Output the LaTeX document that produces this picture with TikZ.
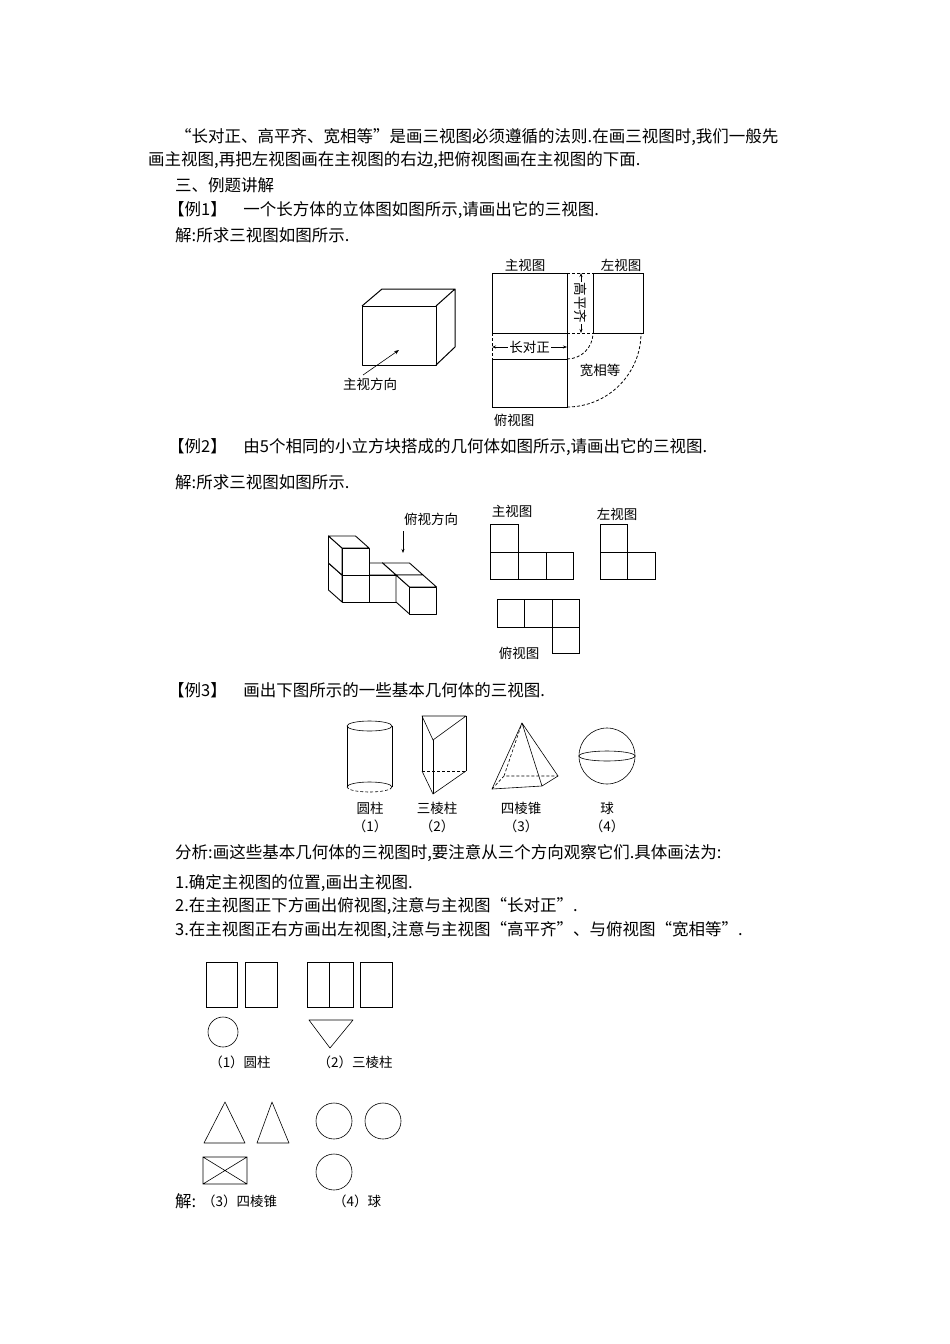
\documentclass[tikz,border=0pt]{standalone}
\usepackage{fontspec}
\setmainfont{Noto Sans CJK SC}
\usetikzlibrary{arrows.meta}
\tikzset{
 txt/.style={anchor=west,inner sep=0pt,font=\fontsize{16.5}{19}\selectfont},
 lbl/.style={inner sep=0pt,font=\fontsize{13.5}{15}\selectfont},
 ln/.style={line width=1pt},
 thin/.style={line width=0.6pt},
 dsh/.style={line width=0.8pt,dash pattern=on 3pt off 2pt},
 cubeface/.style={fill=white,draw=black,line width=0.9pt,line join=round}
}
\newcommand{\cubeat}[3]{%
 \pgfmathsetmacro{\X}{355.5+27*#1-13.5*#2}\pgfmathsetmacro{\Y}{614-27*#3-12*#2}%
 \filldraw[cubeface] (\X,\Y) -- ++(-13.5,-12) -- ++(0,-27) -- ++(13.5,12) -- cycle;
 \filldraw[cubeface] (\X,\Y-27) -- ++(-13.5,-12) -- ++(27,0) -- ++(13.5,12) -- cycle;
 \filldraw[cubeface] (\X,\Y) rectangle ++(27,-27);}
\begin{document}
\begin{tikzpicture}[x=1pt,y=-1pt]
\useasboundingbox (0,0) rectangle (950,1344);
\node[txt] (t1) at (175,137) {“长对正、高平齐、宽相等”是画三视图必须遵循的法则.在画三视图时,我们一般先};
\node[txt] (t2) at (148,160) {画主视图,再把左视图画在主视图的右边,把俯视图画在主视图的下面.};
\node[txt] (t3) at (175,185) {三、例题讲解};
\node[txt] (t4) at (168,210) {【例1】\quad 一个长方体的立体图如图所示,请画出它的三视图.};
\node[txt] (t5) at (175,235) {解:所求三视图如图所示.};
% example 1 cube
\draw[ln,line join=round] (362,306) rectangle (436,365);
\draw[ln,line join=round] (362,306) -- (382,289) -- (455,289) -- (455,347) -- (436,365) (436,306) -- (455,289);
\coordinate (a1) at (363,375); \coordinate (a2) at (399,350);
\draw[thin,-{Stealth[length=5pt]}] (a1) -- (a2);
\node[lbl] (l1) at (370,384) {主视方向};
% views
\draw[ln] (492,273) rectangle (567,333);
\draw[ln] (593,273) rectangle (643,333);
\draw[ln] (492,359) rectangle (567,407);
\draw[thin] (567,333) -- (567,359);
\draw[dsh] (567,273) -- (593,273) (567,333) -- (593,333) (492,333) -- (492,359);
\draw[dsh] (567,359) arc[start angle=90,end angle=0,radius=26];
\draw[dsh] (567,407) arc[start angle=90,end angle=0,radius=74];
\draw[thin,{Stealth[length=4pt]}-{Stealth[length=4pt]}] (581,273) -- (581,333);
\node[lbl,fill=white,rotate=-90,inner sep=1pt] (gp) at (581,303) {高平齐};
\draw[thin,{Stealth[length=4pt]}-{Stealth[length=4pt]}] (492,347) -- (567,347);
\node[lbl,fill=white,inner sep=1pt] (cd) at (529.5,347) {长对正};
\node[lbl] at (525,265) {主视图};
\node[lbl] at (621,265) {左视图};
\node[lbl] at (600,370) {宽相等};
\node[lbl] at (514,420) {俯视图};
% example 2
\node[txt] (t6) at (168,447) {【例2】\quad 由5个相同的小立方块搭成的几何体如图所示,请画出它的三视图.};
\node[txt] (t7) at (175,482) {解:所求三视图如图所示.};
\cubeat{2}{1}{0}\cubeat{1}{1}{0}\cubeat{0}{1}{0}\cubeat{0}{1}{1}\cubeat{2}{0}{0}
\node[lbl] (fs) at (431,519) {俯视方向};
\coordinate (b1) at (403,531); \coordinate (b2) at (403,553);
\draw[thin,-{Stealth[length=4pt]}] (b1) -- (b2);
\node[lbl] at (512,511) {主视图};
\draw[ln] (490,524) rectangle (518,552);
\draw[ln] (490,552) rectangle (518,579) (518,552) rectangle (546,579) (546,552) rectangle (573,579);
\node[lbl] at (617,514) {左视图};
\draw[ln] (600,524) rectangle (627,552) (600,552) rectangle (627,579) (627,552) rectangle (655,579);
\draw[ln] (497,599) rectangle (524,627) (524,599) rectangle (552,627) (552,599) rectangle (579,627) (552,627) rectangle (579,653);
\node[lbl] at (519,653) {俯视图};
% example 3
\node[txt] (t8) at (168,690) {【例3】\quad 画出下图所示的一些基本几何体的三视图.};
\draw[thin] (369.5,726) ellipse[x radius=22.5,y radius=5];
\draw[thin] (347,726) -- (347,787) (392,726) -- (392,787);
\draw[thin] (347,787) arc[start angle=180,end angle=360,x radius=22.5,y radius=5];
\draw[thin,dash pattern=on 3pt off 2pt] (392,787) arc[start angle=0,end angle=180,x radius=22.5,y radius=5];
\draw[thin,line join=round] (422,716) -- (466,716) -- (433,740) -- cycle;
\draw[thin] (422,716) -- (422,771) (466,716) -- (466,771) (433,740) -- (433,794);
\draw[thin] (422,771) -- (433,794) -- (466,771);
\draw[thin,dash pattern=on 3pt off 2pt] (422,771) -- (466,771);
\draw[thin,line join=round] (492,789) -- (542,786) -- (558,776) -- (522,723) -- cycle (522,723) -- (542,786);
\draw[thin,dash pattern=on 3pt off 2pt] (492,789) -- (504,776) -- (558,776) (504,776) -- (522,723);
\draw[thin] (607,756) circle[radius=28];
\draw[thin] (607,756) ellipse[x radius=28,y radius=5];
\node[lbl] at (370,808) {圆柱}; \node[lbl] at (370,826) {（1）};
\node[lbl] at (437,808) {三棱柱}; \node[lbl] at (437,826) {（2）};
\node[lbl] at (521,808) {四棱锥}; \node[lbl] at (521,826) {（3）};
\node[lbl] at (607,808) {球}; \node[lbl] at (607,826) {（4）};
\node[txt] (t9) at (175,853) {分析:画这些基本几何体的三视图时,要注意从三个方向观察它们.具体画法为:};
\node[txt] (t10) at (175,883) {1.确定主视图的位置,画出主视图.};
\node[txt] (t11) at (175,906) {2.在主视图正下方画出俯视图,注意与主视图“长对正”.};
\node[txt] (t12) at (175,930) {3.在主视图正右方画出左视图,注意与主视图“高平齐”、与俯视图“宽相等”.};
% answers
\draw[thin] (206,962) rectangle (237,1007) (245,962) rectangle (277,1007);
\draw[thin] (223,1032) circle[radius=15];
\draw[thin] (307,962) rectangle (353,1007) (329,962) -- (329,1007) (360,962) rectangle (392,1007);
\draw[thin,line join=round] (309,1020) -- (353,1020) -- (330,1048) -- cycle;
\node[lbl] at (240,1062) {（1）圆柱};
\node[lbl] at (355,1062) {（2）三棱柱};
\draw[thin,line join=round] (204,1143) -- (245,1143) -- (225,1102) -- cycle;
\draw[thin,line join=round] (257,1143) -- (289,1143) -- (272,1102) -- cycle;
\draw[thin] (203,1157) rectangle (247,1184) (203,1157) -- (247,1184) (203,1184) -- (247,1157);
\draw[thin] (334,1121) circle[radius=18] (383,1121) circle[radius=18] (334,1172) circle[radius=18];
\node[txt] (t13) at (175,1201) {解:};
\node[lbl,anchor=west] at (202,1201) {（3）四棱锥};
\node[lbl] at (357,1201) {（4）球};
\end{tikzpicture}
\end{document}
